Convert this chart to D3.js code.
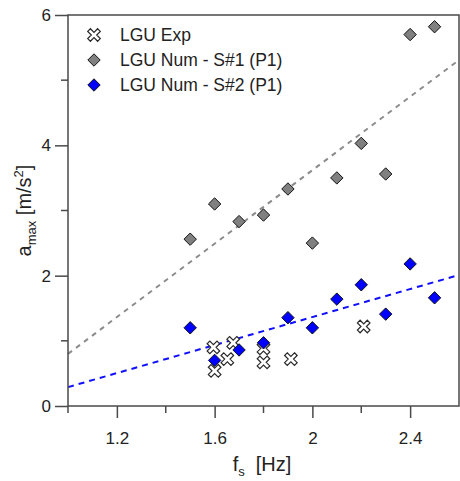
<!DOCTYPE html>
<html>
<head>
<meta charset="utf-8">
<script src="https://cdn.jsdelivr.net/npm/d3@7"></script>
<style>
  body { margin: 0; background: #fff; }
  text { font-family: "Liberation Sans", Arial, sans-serif; fill: #222; }
</style>
</head>
<body>
<div id="vis"></div>
<script>
// frequencies shared by both numerical series
const freqNum = [1.5, 1.6, 1.7, 1.8, 1.9, 2.0, 2.1, 2.2, 2.3, 2.4, 2.5]
const amaxS1 = [2.56, 3.1, 2.83, 2.93, 3.33, 2.5, 3.5, 4.03, 3.56, 5.7, 5.82]
const amaxS2 = [1.2, 0.7, 0.86, 0.97, 1.355, 1.2, 1.64, 1.86, 1.41, 2.18, 1.66]

// experimental points
const freqExp = [1.595, 1.6, 1.652, 1.676, 1.8, 1.8, 1.912, 2.21]
const amaxExp = [0.9, 0.54, 0.72, 0.97, 0.885, 0.67, 0.72, 1.22]

// dashed trend lines, read at the plot edges
const trendS1 = [[1.0, 0.8], [2.6, 5.31]]
const trendS2 = [[1.0, 0.29], [2.6, 2.01]]

const xTicks = [1.2, 1.6, 2, 2.4]
const xMinor = [1.0, 1.4, 1.8, 2.2]
const yTicks = [0, 2, 4, 6]
const yMinor = [1, 3, 5]

const W = 460, H = 481
const mLeft = 68, mRight = 459, mTop = 15, mBottom = 406

const svg = d3.select('#vis').append('svg').attr('width', W).attr('height', H)

const x = d3.scaleLinear().domain([1, 2.6]).range([mLeft, mRight])
const y = d3.scaleLinear().domain([0, 6]).range([mBottom, mTop])

const axisCol = '#4a4a4a'

// trend lines
const line = d3.line().x((d) => x(d[0])).y((d) => y(d[1]))
svg.append('path').attr('d', line(trendS1))
  .attr('fill', 'none').attr('stroke', '#8c8c8c').attr('stroke-width', 2).attr('stroke-dasharray', '5,5')
svg.append('path').attr('d', line(trendS2))
  .attr('fill', 'none').attr('stroke', '#1010ff').attr('stroke-width', 2).attr('stroke-dasharray', '6,5')

// markers
const diamond = (cx, cy, r) =>
  `M${cx},${cy - r}L${cx + r},${cy}L${cx},${cy + r}L${cx - r},${cy}Z`

function crossPath(s, w) {
  const p = [[-w, -s], [w, -s], [w, -w], [s, -w], [s, w], [w, w], [w, s], [-w, s], [-w, w], [-s, w], [-s, -w], [-w, -w]]
  return 'M' + p.map((d) => d.join(',')).join('L') + 'Z'
}

function drawCross(g, cx, cy) {
  g.append('path').attr('d', crossPath(7, 1.9))
    .attr('transform', `translate(${cx},${cy}) rotate(45)`)
    .attr('fill', '#fff').attr('stroke', '#2a2a2a').attr('stroke-width', 1.2)
}

function drawDiamond(g, cx, cy, fill) {
  g.append('path').attr('d', diamond(cx, cy, 6.2))
    .attr('fill', fill).attr('stroke', '#111').attr('stroke-width', 1)
}

const pts = svg.append('g')
freqNum.forEach((f, i) => drawDiamond(pts, x(f), y(amaxS1[i]), '#808080'))
freqExp.forEach((f, i) => drawCross(pts, x(f), y(amaxExp[i])))
freqNum.forEach((f, i) => drawDiamond(pts, x(f), y(amaxS2[i]), '#0000ff'))

// frame
svg.append('rect').attr('x', mLeft).attr('y', mTop)
  .attr('width', mRight - mLeft).attr('height', mBottom - mTop)
  .attr('fill', 'none').attr('stroke', axisCol).attr('stroke-width', 1.5)

// x axis ticks
const xa = svg.append('g').attr('transform', `translate(0,${mBottom})`)
xa.call(d3.axisBottom(x).tickValues(xTicks).tickSize(12).tickFormat(d3.format('')))
xa.select('.domain').remove()
xa.selectAll('line').attr('stroke', axisCol).attr('stroke-width', 1.5)
xa.selectAll('text').attr('font-size', 17).attr('dy', 0).attr('y', 38).attr('fill', '#222')
  .style('font-family', '"Liberation Sans", Arial, sans-serif')
xa.selectAll('.minor').data(xMinor).enter().append('line')
  .attr('x1', (d) => x(d)).attr('x2', (d) => x(d)).attr('y1', 0).attr('y2', 7)
  .attr('stroke', axisCol).attr('stroke-width', 1.5)

// y axis ticks
const ya = svg.append('g').attr('transform', `translate(${mLeft},0)`)
ya.call(d3.axisLeft(y).tickValues(yTicks).tickSize(13).tickFormat(d3.format('')))
ya.select('.domain').remove()
ya.selectAll('line').attr('stroke', axisCol).attr('stroke-width', 1.5)
ya.selectAll('text').attr('font-size', 17).attr('x', -17).attr('fill', '#222')
  .style('font-family', '"Liberation Sans", Arial, sans-serif')
ya.selectAll('.minor').data(yMinor).enter().append('line')
  .attr('x1', 0).attr('x2', -7).attr('y1', (d) => y(d)).attr('y2', (d) => y(d))
  .attr('stroke', axisCol).attr('stroke-width', 1.5)

// axis titles
const xt = svg.append('text').attr('x', 262).attr('y', 471).attr('text-anchor', 'middle').attr('font-size', 20)
xt.append('tspan').text('f')
xt.append('tspan').attr('font-size', 13).attr('dy', 5).text('s')
xt.append('tspan').attr('dy', -5).text('\u00a0\u00a0[Hz]')

const yt = svg.append('text')
  .attr('transform', `translate(31,${(mTop + mBottom) / 2}) rotate(-90)`)
  .attr('text-anchor', 'middle').attr('font-size', 20)
yt.append('tspan').text('a')
yt.append('tspan').attr('font-size', 13).attr('dy', 5).text('max')
yt.append('tspan').attr('dy', -5).text(' [m/s')
yt.append('tspan').attr('font-size', 13).attr('dy', -8).text('2')
yt.append('tspan').attr('dy', 8).text(']')

// legend
const legend = [
  { label: 'LGU Exp', type: 'cross' },
  { label: 'LGU Num - S#1 (P1)', type: 'diamond', fill: '#808080' },
  { label: 'LGU Num - S#2 (P1)', type: 'diamond', fill: '#0000ff' }
]
const lg = svg.append('g')
legend.forEach((d, i) => {
  const cy = 35 + i * 25
  if (d.type === 'cross') drawCross(lg, 94, cy)
  else drawDiamond(lg, 94, cy, d.fill)
  lg.append('text').attr('x', 120).attr('y', cy + 6).attr('font-size', 17.5).text(d.label)
})
</script>
</body>
</html>
